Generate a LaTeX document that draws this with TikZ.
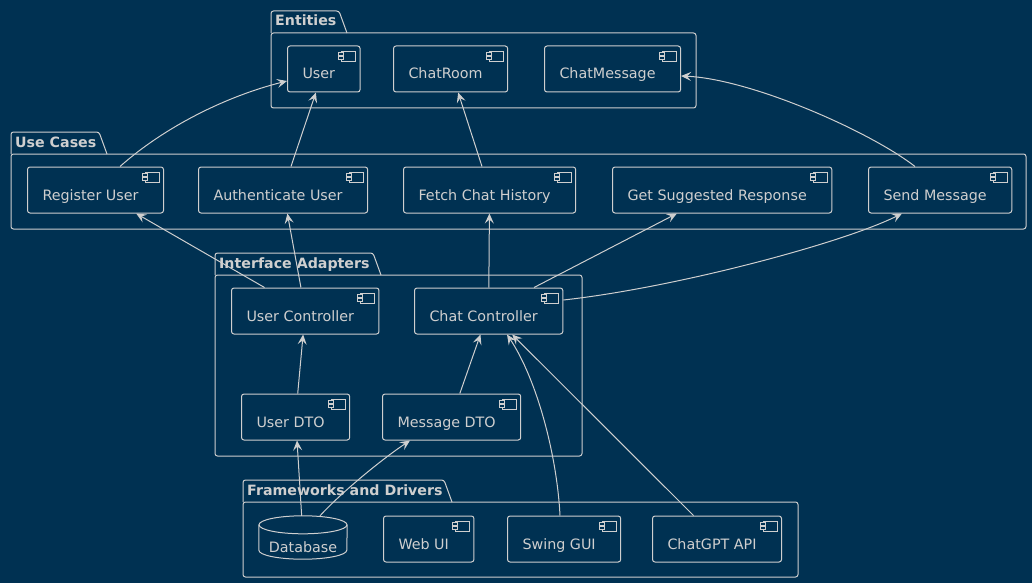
\documentclass[tikz,border=0pt]{standalone}
\usepackage{fontspec}
\setmainfont{DejaVu Sans}
\usetikzlibrary{arrows.meta}

\definecolor{bgblue}{RGB}{0,49,82}
\definecolor{umlgray}{RGB}{207,207,207}

\tikzset{
  comp/.style={draw=umlgray, text=umlgray, line width=1pt, rounded corners=2.5pt,
    anchor=west, minimum height=46pt, inner xsep=0pt, inner ysep=0pt,
    text height=22pt, text depth=2pt, font=\fontsize{14.3}{17}\selectfont,
    execute at begin node={\hspace*{15pt}}, execute at end node={\hspace*{25pt}}},
  dbbox/.style={minimum width=88pt, minimum height=43pt, inner sep=0pt},
  dbline/.style={draw=umlgray, line width=1pt},
  dbtext/.style={text=umlgray, inner sep=0pt, anchor=base, font=\fontsize{14.3}{17}\selectfont},
  pkgline/.style={draw=umlgray, line width=1pt, rounded corners=2.5pt},
  pkgtitle/.style={text=umlgray, font=\bfseries\fontsize{14.2}{17}\selectfont,
    inner sep=0pt, anchor=base west},
  dep/.style={draw=umlgray, line width=1pt, ->},
  icon/.style={draw=umlgray, line width=0.8pt, fill=bgblue}
}

% package: left, tab top, tab width, right, bottom, title
\newcommand{\umlpackage}[6]{%
  \draw[pkgline] (#1,#2+22) rectangle (#4,#5);
  \draw[pkgline] (#1,#2+22) -- (#1,#2) -- (#1+#3,#2) -- (#1+#3+8,#2+22);
  \node[pkgtitle] at (#1+4,#2+15) {#6};
}

\begin{document}
\begin{tikzpicture}[x=1pt,y=-1pt,>={Stealth[length=10pt,width=9pt,inset=4pt]}]
  \fill[bgblue] (0,0) rectangle (1032,583);
  \useasboundingbox (0,0) rectangle (1032,583);

  % packages
  \umlpackage{271}{11}{68}{696}{108}{Entities}
  \umlpackage{11}{132}{88}{1026}{229}{Use Cases}
  \umlpackage{215}{253}{158}{582}{456}{Interface Adapters}
  \umlpackage{243}{480}{201}{798}{577}{Frameworks and Drivers}

  % entities
  \node[comp] (user) at (287,69) {User};
  \node[comp] (chatRoom) at (393,69) {ChatRoom};
  \node[comp] (chatMessage) at (544,69) {ChatMessage};

  % use cases
  \node[comp] (regUser) at (27,190) {Register User};
  \node[comp] (authUser) at (198,190) {Authenticate User};
  \node[comp] (fetchHist) at (403,190) {Fetch Chat History};
  \node[comp] (suggestResp) at (612,190) {Get Suggested Response};
  \node[comp] (sendMsg) at (868,190) {Send Message};

  % interface adapters
  \node[comp] (userCtrl) at (231,311) {User Controller};
  \node[comp] (chatCtrl) at (414,311) {Chat Controller};
  \node[comp] (userDto) at (241,417) {User DTO};
  \node[comp] (msgDto) at (382,417) {Message DTO};

  % frameworks and drivers
  \node[dbbox] (db) at (303,537.5) {};
  \draw[dbline] ([yshift=-9pt]db.north west) -- ([yshift=9pt]db.south west)
    arc[start angle=180, end angle=360, x radius=44pt, y radius=9pt] -- ([yshift=-9pt]db.north east);
  \draw[dbline] ([yshift=-9pt]db.north) ellipse [x radius=44pt, y radius=9pt];
  \node[dbtext] (dbLabel) at (303,552) {Database};
  \node[comp] (webUi) at (383,539) {Web UI};
  \node[comp] (swingGui) at (507,539) {Swing GUI};
  \node[comp] (chatGpt) at (652,539) {ChatGPT API};

  \foreach \n in {user,chatRoom,chatMessage,regUser,authUser,fetchHist,suggestResp,
      sendMsg,userCtrl,chatCtrl,userDto,msgDto,webUi,swingGui,chatGpt} {
    \draw[icon] ([xshift=-19pt,yshift=-6pt]\n.north east) rectangle ([xshift=-5pt,yshift=-16pt]\n.north east);
    \draw[icon] ([xshift=-22pt,yshift=-7pt]\n.north east) rectangle ([xshift=-17pt,yshift=-10pt]\n.north east);
    \draw[icon] ([xshift=-22pt,yshift=-11pt]\n.north east) rectangle ([xshift=-17pt,yshift=-14pt]\n.north east);
  }

  % dependencies
  \draw[dep] ([xshift=93pt]regUser.north west) .. controls +(45,-40) and +(-60,15) .. ([yshift=-12pt]user.west);
  \draw[dep] (authUser) -- (user);
  \draw[dep] (fetchHist) -- (chatRoom);
  \draw[dep] ([xshift=47pt]sendMsg.north west) .. controls +(-45,-35) and +(70,3) .. ([yshift=-7pt]chatMessage.east);

  \draw[dep] (userCtrl) -- (regUser);
  \draw[dep] (userCtrl) -- (authUser);
  \draw[dep] (chatCtrl) -- (fetchHist);
  \draw[dep] (chatCtrl) -- (suggestResp);
  \draw[dep] ([yshift=11pt]chatCtrl.east) .. controls +(110,-12) and +(-60,30) .. ([xshift=34pt]sendMsg.south west);

  \draw[dep] (userDto) -- (userCtrl);
  \draw[dep] (msgDto) -- (chatCtrl);
  \draw[dep] ([xshift=53pt]swingGui.north west) .. controls +(-3,-60) and +(30,45) .. ([xshift=93pt]chatCtrl.south west);
  \draw[dep] (chatGpt) -- (chatCtrl);

  \draw[dep] (db) -- (userDto);
  \draw[dep] ([xshift=17pt]db.north) .. controls +(20,-22) and +(-30,20) .. ([xshift=28pt]msgDto.south west);
\end{tikzpicture}
\end{document}
